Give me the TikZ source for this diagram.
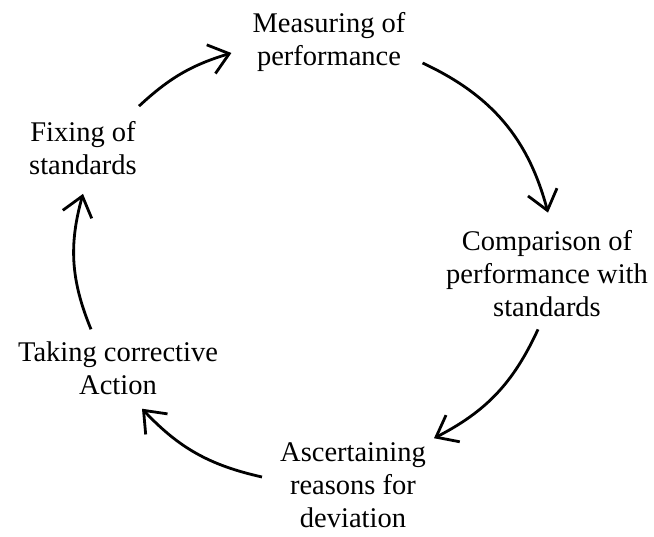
\documentclass[tikz,border=0pt]{standalone}
\usepackage{fontspec}
\setmainfont{Liberation Serif}
\usetikzlibrary{arrows.meta}
\begin{document}
\begin{tikzpicture}[x=1pt,y=-1pt,
    stage/.style={align=center,inner sep=0pt,font=\fontsize{28.5}{33}\selectfont},
    cycarrow/.style={line width=2.8pt,-{Straight Barb[length=19pt,width=30pt]}}]
                \useasboundingbox (0,0) rectangle (654,537);
                \node[stage] (meas) at (329,42) {Measuring of\\performance};
                \node[stage] (comp) at (547,274) {Comparison of\\performance with\\standards};
                \node[stage] (asc) at (353,485) {Ascertaining\\reasons for\\deviation};
                \node[stage] (take) at (118,368) {Taking corrective\\Action};
                \node[stage] (fix) at (83,148) {Fixing of\\standards};
                \draw[cycarrow] ([xshift=2pt,yshift=15pt]fix.north east) to[bend left=13] ([xshift=-21pt,yshift=-11pt]meas.west);
                \draw[cycarrow] ([xshift=17pt,yshift=-21pt]meas.east) to[bend left=25] ([xshift=1pt,yshift=18pt]comp.north);
                \draw[cycarrow] ([xshift=-9pt,yshift=-12pt]comp.south) to[bend left=19] ([xshift=8pt,yshift=4pt]asc.north east);
                \draw[cycarrow] ([xshift=-18pt,yshift=8pt]asc.west) to[bend left=17] ([xshift=24pt,yshift=-14pt]take.south);
                \draw[cycarrow] ([xshift=-27pt,yshift=12pt]take.north) to[bend left=19] ([yshift=-19pt]fix.south);
            \end{tikzpicture}
\end{document}
